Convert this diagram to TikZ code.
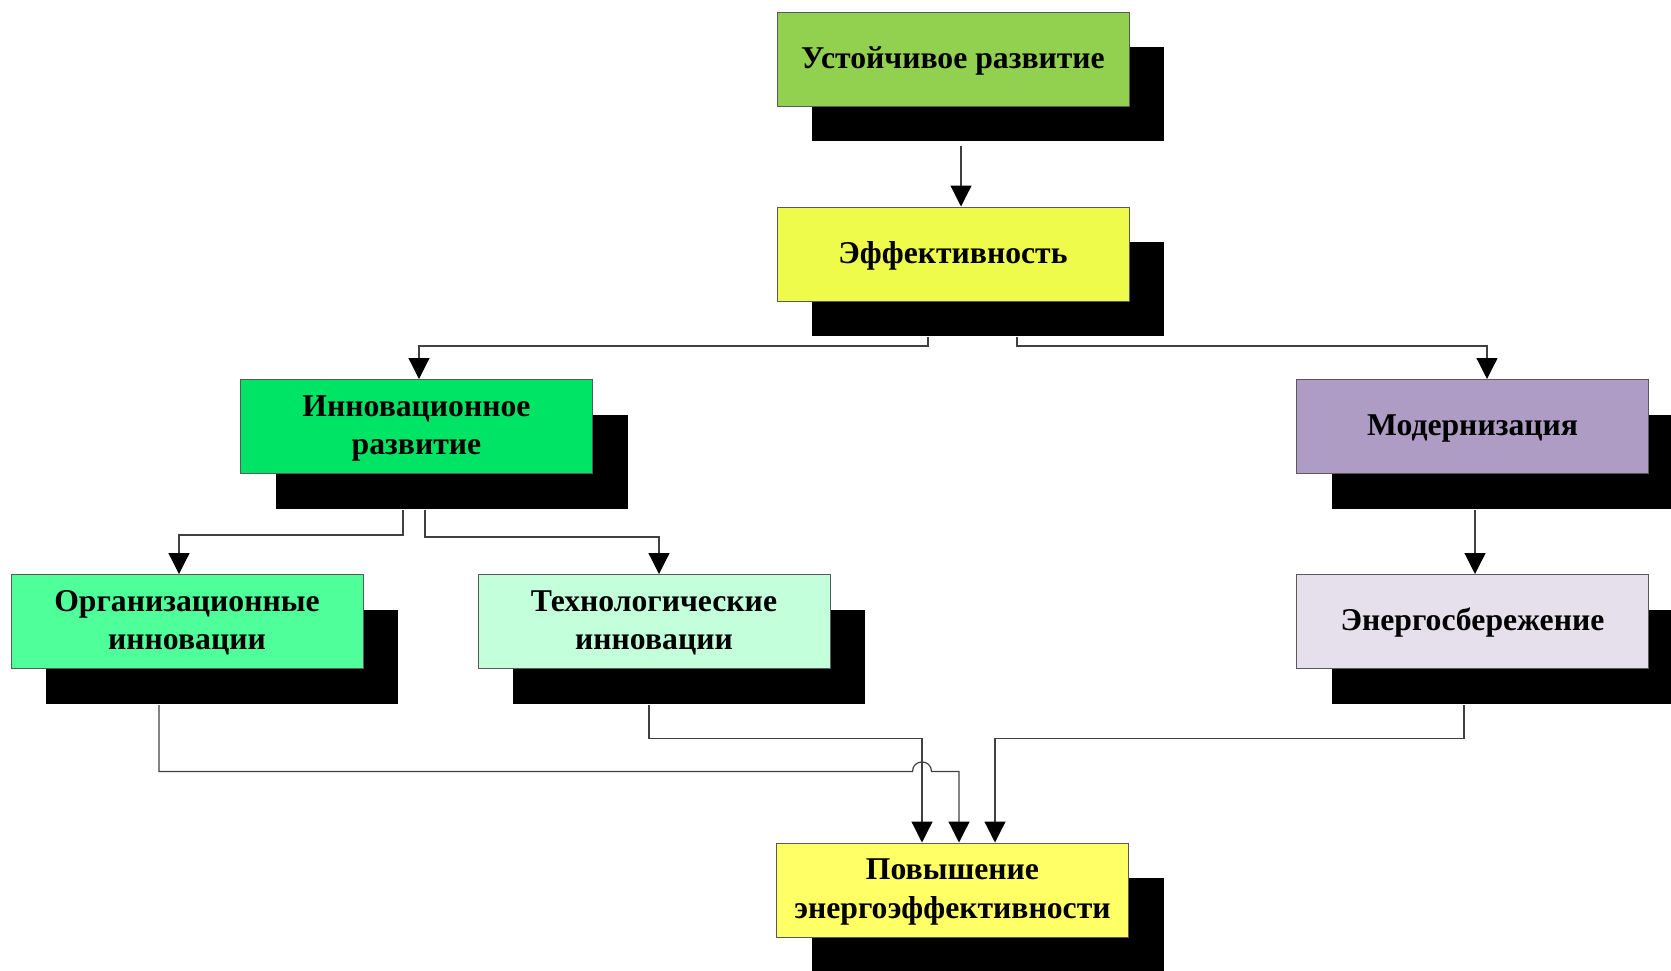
\documentclass[tikz,border=0pt]{standalone}
\usepackage{fontspec}
\setmainfont{Liberation Serif}
\usetikzlibrary{arrows.meta,shadows,calc}
\definecolor{cUst}{HTML}{92D050}
\definecolor{cEff}{HTML}{EEFB4A}
\definecolor{cInn}{HTML}{00E466}
\definecolor{cOrg}{HTML}{4FFF99}
\definecolor{cTeh}{HTML}{C4FFDC}
\definecolor{cMod}{HTML}{AE9CC4}
\definecolor{cEne}{HTML}{E6E0EC}
\definecolor{cPov}{HTML}{FFFF66}
\newcommand\topstr{\rule{0pt}{14pt}}
\newcommand\botstr{\rule[-5pt]{0pt}{5pt}}
\begin{document}
\begin{tikzpicture}[x=0.5pt,y=-0.5pt,
  box/.style={draw=black!65, line width=0.5pt, minimum width=176pt, minimum height=47pt,
    inner sep=0pt, align=center,
    font=\fontsize{15.85}{19.1}\selectfont\bfseries,
    execute at begin node={\topstr},
    execute at end node={\botstr},
    drop shadow={shadow xshift=17.5pt, shadow yshift=-17.5pt, opacity=1, fill=black}},
  conn/.style={draw=black!75, line width=0.6pt,
    -{Triangle[width=10.5pt,length=10.5pt,black]}}]
\useasboundingbox (0,0) rectangle (1671,970);
\node[box, fill=cUst] (n1) at (953,59) {Устойчивое развитие};
\node[box, fill=cEff] (n2) at (953,254) {Эффективность};
\node[box, fill=cInn] (n3) at (416.5,426.5) {\topstr Инновационное\\развитие\botstr};
\node[box, fill=cMod] (n7) at (1472.5,426.5) {Модернизация};
\node[box, fill=cOrg] (n4) at (187,621.5) {\topstr Организационные\\инновации\botstr};
\node[box, fill=cTeh] (n5) at (654,621.5) {\topstr Технологические\\инновации\botstr};
\node[box, fill=cEne] (n8) at (1472.5,621.5) {Энергосбережение};
\node[box, fill=cPov] (n6) at (952.5,890) {\topstr Повышение\\энергоэффективности\botstr};
% connectors
\draw[conn] ($(n1.south)+(8,39)$) -- ($(n2.north)+(8,0)$);
\draw[conn] ($(n2.south)+(-25,35)$) |- ($(n3.north)+(2.5,-33)$) -- ($(n3.north)+(2.5,0)$);
\draw[conn] ($(n2.south)+(64,35)$) |- ($(n7.north)+(14.5,-33)$) -- ($(n7.north)+(14.5,0)$);
\draw[conn] ($(n3.south)+(-13.5,36)$) |- ($(n4.north)+(-8,-39)$) -- ($(n4.north)+(-8,0)$);
\draw[conn] ($(n3.south)+(8.5,36)$) |- ($(n5.north)+(5,-37)$) -- ($(n5.north)+(5,0)$);
\draw[conn] ($(n7.south)+(2.5,36)$) -- ($(n8.north)+(2.5,0)$);
\draw[conn] ($(n5.south)+(-5,36)$) |- ($(n6.north)+(-30.5,-104)$) -- ($(n6.north)+(-30.5,0)$);
\draw[conn] ($(n8.south)+(-8.5,36)$) |- ($(n6.north)+(42.5,-104)$) -- ($(n6.north)+(42.5,0)$);
\draw[conn] ($(n4.south)+(-28,36)$) |- ($(n6.north)+(-40,-71)$)
  .. controls ($(n6.north)+(-40,-83.7)$) and ($(n6.north)+(-21,-83.7)$) .. ($(n6.north)+(-21,-71)$)
  -- ($(n6.north)+(6.5,-71)$) -- ($(n6.north)+(6.5,0)$);
\end{tikzpicture}
\end{document}
